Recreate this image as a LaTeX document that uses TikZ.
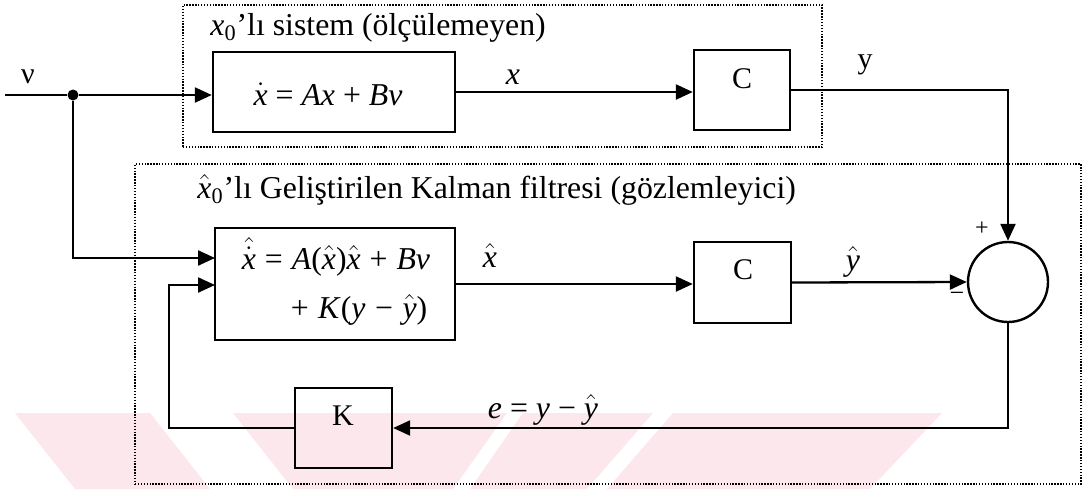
\documentclass[tikz,border=0pt]{standalone}
\usepackage{fontspec}
\setmainfont{Liberation Serif}
\usetikzlibrary{arrows.meta,calc}
\definecolor{wmpink}{RGB}{252,231,236}
\newcommand\xh{$\hat{\hbox{\itshape x}}$}
\newcommand\yh{$\hat{\hbox{\itshape y}}$}
\newcommand\xhd{$\hat{\dot{\hbox{\itshape x}}}$}
\newcommand\xd{$\dot{\hbox{\itshape x}}$}
\newcommand\op[2]{\hspace{#1em}#2\hspace{#1em}}
\begin{document}
\begin{tikzpicture}[x=0.5pt,y=-0.5pt,
  blk/.style={draw,line width=1.2pt,inner sep=0pt},
  grp/.style={draw,line width=1pt,dash pattern=on 0.7pt off 0.75pt,inner sep=0pt},
  wire/.style={line width=1.15pt},
  arr/.style={wire,-{Triangle[length=8.5pt,width=7.5pt]}},
  ttl/.style={font=\fontsize{15.9}{18}\selectfont,anchor=west,inner sep=0pt},
  eq/.style={font=\fontsize{15.9}{18}\selectfont,inner sep=0pt},
  lbl/.style={font=\fontsize{15}{17}\selectfont,inner sep=0pt},
  wm/.style={fill=wmpink,draw=none}]
\useasboundingbox (0,0) rectangle (1088,489);
% watermark
\fill[wm] (15,413) -- (150,413) -- (210,489) -- (75,489) -- cycle;
\fill[wm] (233,413) -- (507,413) -- (453,489) -- (293,489) -- cycle;
\fill[wm] (523,413) -- (653,413) -- (587,489) -- (470,489) -- cycle;
\fill[wm] (673,413) -- (942,413) -- (870,489) -- (607,489) -- cycle;
% groups
\node[grp,minimum width=319.5pt,minimum height=71pt] (sys) at (502.5,76) {};
\node[grp,minimum width=473pt,minimum height=160pt] (obs) at (608,324) {};
\node[ttl] (t1) at (210,28) {\textit{x}\textsubscript{0}’lı sistem (ölçülemeyen)};
\node[ttl] (t2) at (197,190) {\xh\textsubscript{0}’lı Geliştirilen Kalman filtresi (gözlemleyici)};
% blocks
\node[blk,minimum width=121pt,minimum height=40pt] (boxA) at (334,92) {};
\node[eq] (eqa) at (328,94) {\xd\op{0.25}{=}\textit{Ax}\op{0.25}{+}\textit{Bv}};
\node[blk,minimum width=48pt,minimum height=40pt] (c1) at (742,90) {};
\node[lbl] (c1t) at (742,79) {C};
\node[blk,minimum width=120pt,minimum height=56pt] (boxB) at (335,284) {};
\node[eq] (eqb1) at (336,257) {\xhd\op{0.28}{=}\textit{A}(\xh)\xh\op{0.28}{+}\textit{Bv}};
\node[eq] (eqb2) at (359,310) {+\hspace{0.3em}\textit{K}(\textit{y}\op{0.3}{−}\yh)};
\node[blk,minimum width=48.5pt,minimum height=40.5pt] (c2) at (742.5,282.5) {};
\node[lbl] (c2t) at (743,270) {C};
\node[blk,minimum width=48.5pt,minimum height=40pt] (kb) at (343.5,428) {};
\node[lbl] (kt) at (343,416) {K};
\node[blk,circle,minimum size=40pt] (sum) at (1008,282) {};
\node[circle,fill,inner sep=0pt,minimum size=5.5pt] (dot) at (73,95) {};
% labels
\node[lbl] (lv) at (28,77) {ν};
\node[eq] (lx) at (513,77) {\textit{x}};
\node[lbl] (ly) at (865,65) {y};
\node[eq] (lxh) at (490,255) {\xh};
\node[eq] (lyh) at (853,262) {\yh};
\node[eq] (le) at (543,410) {\textit{e}\op{0.25}{=}\textit{y}\op{0.25}{−}\yh};
\node[inner sep=0pt,font=\fontsize{12}{14}\selectfont] (lp) at (982,229) {+};
\node[inner sep=0pt,font=\fontsize{13}{14}\selectfont] (lm) at (957,297) {−};
% coordinates
\coordinate (vin) at (5,95);
\coordinate (bin1) at (215,258);
\coordinate (bin2) at (215,285);
\coordinate (fbc) at (169,285);
% connectors
\draw[wire] (vin) -- (dot);
\draw[arr] (dot) -- (dot -| boxA.west);
\draw[arr] (dot) |- (bin1);
\draw[arr] (boxA.east) -- (boxA.east -| c1.west);
\draw[arr] (c1.east) -| (sum.north);
\draw[arr] (boxB.east) -- (boxB.east -| c2.west);
\draw[arr] (c2.east) -- (sum.west);
\draw[arr] (sum.south) |- (kb.east);
\draw[arr] (kb.west) -| (fbc) -- (bin2);
\end{tikzpicture}
\end{document}
